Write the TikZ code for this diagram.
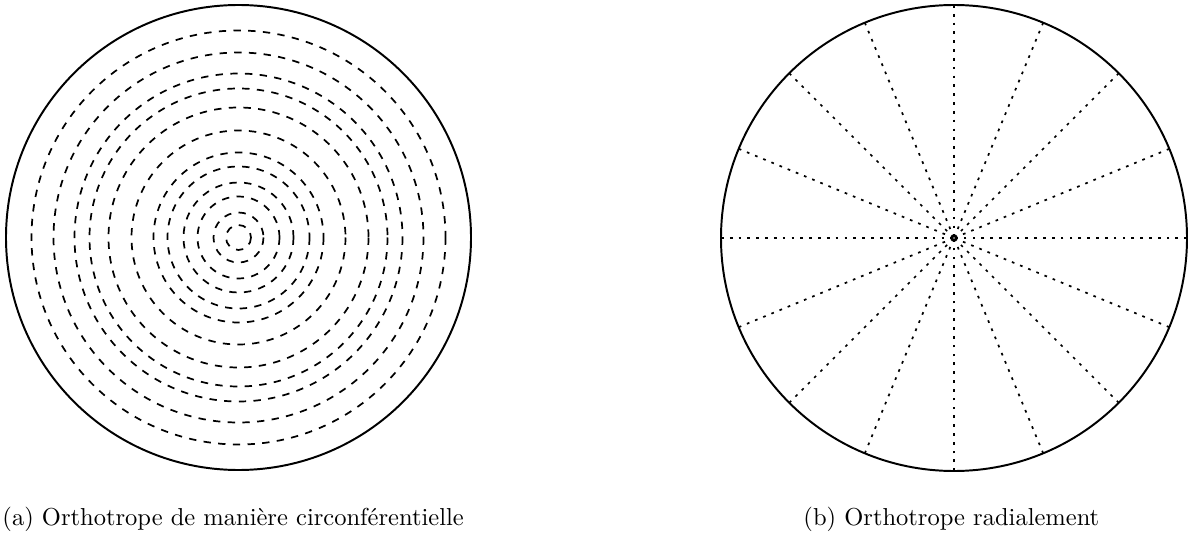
\documentclass[tikz,border=0pt]{standalone}
\usetikzlibrary{calc}
\begin{document}
\begin{tikzpicture}[x=0.408pt,y=-0.408pt,
  outer/.style={line width=0.8pt},
  ring/.style={line width=0.7pt,dash pattern=on 3pt off 3pt},
  ray/.style={line width=0.7pt,dash pattern=on 1.1pt off 2.5pt},
  captext/.style={inner sep=0pt,font=\normalsize}]
\useasboundingbox (0,0) rectangle (1188,534);
% (a)
\coordinate (ca) at (238.5,237.5);
\draw[outer] (ca) circle[radius=232.5];
\foreach \r in {207,185,164,149,130,107,85,71,55,41,25,12.5}
  \draw[ring] (ca) circle[radius=\r];
\node[captext,anchor=base west] (capa) at (2,525.7) {(a) Orthotrope de manière circonférentielle};
% (b)
\coordinate (cb) at (954,238);
\draw[outer] (cb) circle[radius=233];
\foreach \a in {0,22.5,...,337.5}{
  \coordinate (e) at ($(cb)+(\a:233)$);
  \draw[ray] (e) -- (cb);
}
\node[captext,anchor=base west] (capb) at (803,525.7) {(b) Orthotrope radialement};
\end{tikzpicture}
\end{document}
